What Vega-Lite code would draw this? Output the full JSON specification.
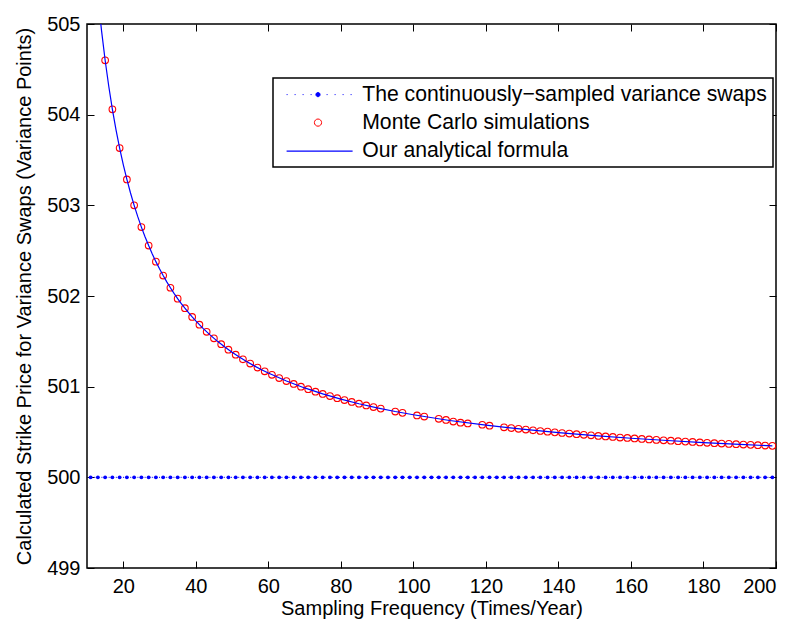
{
  "$schema": "https://vega.github.io/schema/vega-lite/v6.json",
  "width": 689,
  "height": 544,
  "autosize": "none",
  "padding": {"left": 87, "top": 24, "right": 20, "bottom": 57},
  "background": "white",
  "config": {
    "font": "Liberation Sans",
    "view": {"stroke": "black", "strokeWidth": 1.5},
    "axis": {
      "domain": false,
      "grid": false,
      "tickColor": "black",
      "tickWidth": 1,
      "tickSize": -7,
      "labelColor": "black",
      "labelFontSize": 20,
      "labelFont": "Liberation Sans",
      "titleFont": "Liberation Sans",
      "titleFontSize": 20,
      "titleFontWeight": "normal",
      "titleColor": "black"
    }
  },
  "datasets": {
    "formula": [
      {"n":12,"v":505.75},{"n":13,"v":505.308},{"n":14,"v":504.929},{"n":15,"v":504.6},{"n":16,"v":504.313},{"n":17,"v":504.059},{"n":18,"v":503.833},{"n":19,"v":503.632},{"n":20,"v":503.45},{"n":21,"v":503.286},{"n":22,"v":503.136},{"n":23,"v":503.0},{"n":24,"v":502.875},{"n":25,"v":502.76},{"n":26,"v":502.654},{"n":27,"v":502.556},{"n":28,"v":502.464},{"n":29,"v":502.379},{"n":30,"v":502.3},{"n":31,"v":502.226},{"n":32,"v":502.156},{"n":33,"v":502.091},{"n":34,"v":502.029},{"n":35,"v":501.971},{"n":36,"v":501.917},{"n":37,"v":501.865},{"n":38,"v":501.816},{"n":39,"v":501.769},{"n":40,"v":501.725},{"n":42,"v":501.643},{"n":44,"v":501.568},{"n":46,"v":501.5},{"n":48,"v":501.438},{"n":50,"v":501.38},{"n":52,"v":501.327},{"n":54,"v":501.278},{"n":56,"v":501.232},{"n":58,"v":501.19},{"n":60,"v":501.15},{"n":65,"v":501.062},{"n":70,"v":500.986},{"n":75,"v":500.92},{"n":80,"v":500.863},{"n":85,"v":500.812},{"n":90,"v":500.767},{"n":95,"v":500.726},{"n":100,"v":500.69},{"n":110,"v":500.627},{"n":120,"v":500.575},{"n":130,"v":500.531},{"n":140,"v":500.493},{"n":150,"v":500.46},{"n":160,"v":500.431},{"n":170,"v":500.406},{"n":180,"v":500.383},{"n":190,"v":500.363},{"n":199,"v":500.347}
    ],
    "mc": [
      {"n":15,"v":504.6},{"n":17,"v":504.059},{"n":19,"v":503.632},{"n":21,"v":503.286},{"n":23,"v":503.0},{"n":25,"v":502.76},{"n":27,"v":502.556},{"n":29,"v":502.379},{"n":31,"v":502.226},{"n":33,"v":502.091},{"n":35,"v":501.971},{"n":37,"v":501.865},{"n":39,"v":501.769},{"n":41,"v":501.683},{"n":43,"v":501.605},{"n":45,"v":501.533},{"n":47,"v":501.468},{"n":49,"v":501.408},{"n":51,"v":501.353},{"n":53,"v":501.302},{"n":55,"v":501.255},{"n":57,"v":501.211},{"n":59,"v":501.169},{"n":61,"v":501.131},{"n":63,"v":501.095},{"n":65,"v":501.062},{"n":67,"v":501.03},{"n":69,"v":501.0},{"n":71,"v":500.972},{"n":73,"v":500.945},{"n":75,"v":500.92},{"n":77,"v":500.896},{"n":79,"v":500.873},{"n":81,"v":500.852},{"n":83,"v":500.831},{"n":85,"v":500.812},{"n":87,"v":500.793},{"n":89,"v":500.775},{"n":91,"v":500.758},{"n":95,"v":500.726},{"n":97,"v":500.711},{"n":101,"v":500.683},{"n":103,"v":500.67},{"n":107,"v":500.645},{"n":109,"v":500.633},{"n":111,"v":500.615},{"n":113,"v":500.603},{"n":115,"v":500.594},{"n":119,"v":500.58},{"n":121,"v":500.57},{"n":125,"v":500.552},{"n":127,"v":500.543},{"n":129,"v":500.535},{"n":131,"v":500.527},{"n":133,"v":500.519},{"n":135,"v":500.511},{"n":137,"v":500.504},{"n":139,"v":500.496},{"n":141,"v":500.489},{"n":143,"v":500.483},{"n":145,"v":500.476},{"n":147,"v":500.469},{"n":149,"v":500.463},{"n":151,"v":500.457},{"n":153,"v":500.451},{"n":155,"v":500.445},{"n":157,"v":500.439},{"n":159,"v":500.434},{"n":161,"v":500.429},{"n":163,"v":500.423},{"n":165,"v":500.418},{"n":167,"v":500.413},{"n":169,"v":500.408},{"n":171,"v":500.404},{"n":173,"v":500.399},{"n":175,"v":500.394},{"n":177,"v":500.39},{"n":179,"v":500.385},{"n":181,"v":500.381},{"n":183,"v":500.377},{"n":185,"v":500.373},{"n":187,"v":500.369},{"n":189,"v":500.365},{"n":191,"v":500.361},{"n":193,"v":500.358},{"n":195,"v":500.354},{"n":197,"v":500.35},{"n":199,"v":500.347}
    ],
    "cont": [
      {"n":11,"v":500},{"n":13,"v":500},{"n":15,"v":500},{"n":17,"v":500},{"n":19,"v":500},{"n":21,"v":500},{"n":23,"v":500},{"n":25,"v":500},{"n":27,"v":500},{"n":29,"v":500},{"n":31,"v":500},{"n":33,"v":500},{"n":35,"v":500},{"n":37,"v":500},{"n":39,"v":500},{"n":41,"v":500},{"n":43,"v":500},{"n":45,"v":500},{"n":47,"v":500},{"n":49,"v":500},{"n":51,"v":500},{"n":53,"v":500},{"n":55,"v":500},{"n":57,"v":500},{"n":59,"v":500},{"n":61,"v":500},{"n":63,"v":500},{"n":65,"v":500},{"n":67,"v":500},{"n":69,"v":500},{"n":71,"v":500},{"n":73,"v":500},{"n":75,"v":500},{"n":77,"v":500},{"n":79,"v":500},{"n":81,"v":500},{"n":83,"v":500},{"n":85,"v":500},{"n":87,"v":500},{"n":89,"v":500},{"n":91,"v":500},{"n":93,"v":500},{"n":95,"v":500},{"n":97,"v":500},{"n":99,"v":500},{"n":101,"v":500},{"n":103,"v":500},{"n":105,"v":500},{"n":107,"v":500},{"n":109,"v":500},{"n":111,"v":500},{"n":113,"v":500},{"n":115,"v":500},{"n":117,"v":500},{"n":119,"v":500},{"n":121,"v":500},{"n":123,"v":500},{"n":125,"v":500},{"n":127,"v":500},{"n":129,"v":500},{"n":131,"v":500},{"n":133,"v":500},{"n":135,"v":500},{"n":137,"v":500},{"n":139,"v":500},{"n":141,"v":500},{"n":143,"v":500},{"n":145,"v":500},{"n":147,"v":500},{"n":149,"v":500},{"n":151,"v":500},{"n":153,"v":500},{"n":155,"v":500},{"n":157,"v":500},{"n":159,"v":500},{"n":161,"v":500},{"n":163,"v":500},{"n":165,"v":500},{"n":167,"v":500},{"n":169,"v":500},{"n":171,"v":500},{"n":173,"v":500},{"n":175,"v":500},{"n":177,"v":500},{"n":179,"v":500},{"n":181,"v":500},{"n":183,"v":500},{"n":185,"v":500},{"n":187,"v":500},{"n":189,"v":500},{"n":191,"v":500},{"n":193,"v":500},{"n":195,"v":500},{"n":197,"v":500},{"n":199,"v":500}
    ]
  },
  "resolve": {"axis": {"x": "independent", "y": "independent"}},
  "layer": [
    {
      "data": {"name": "cont"},
      "mark": {"type": "line", "color": "#0000ff", "strokeWidth": 1, "strokeDash": [1, 2.6]},
      "encoding": {
        "x": {"field": "n", "type": "quantitative", "scale": {"domain": [10, 200], "nice": false, "zero": false}, "axis": null},
        "y": {"field": "v", "type": "quantitative", "scale": {"domain": [499, 505], "nice": false, "zero": false}, "axis": null}
      }
    },
    {
      "data": {"name": "cont"},
      "mark": {"type": "point", "filled": true, "color": "#0000ff", "size": 15, "opacity": 1, "clip": false},
      "encoding": {
        "x": {"field": "n", "type": "quantitative", "axis": null},
        "y": {"field": "v", "type": "quantitative", "axis": null}
      }
    },
    {
      "data": {"name": "mc"},
      "mark": {"type": "point", "filled": false, "color": "#ff0000", "size": 44, "strokeWidth": 1.1, "opacity": 1},
      "encoding": {
        "x": {"field": "n", "type": "quantitative", "axis": {"orient": "top", "labels": false, "title": null, "values": [20,40,60,80,100,120,140,160,180,200]}},
        "y": {"field": "v", "type": "quantitative", "axis": {"orient": "right", "labels": false, "title": null, "values": [499,500,501,502,503,504,505]}}
      }
    },
    {
      "data": {"name": "formula"},
      "mark": {"type": "line", "strokeWidth": 1.2, "clip": true},
      "encoding": {
        "x": {"field": "n", "type": "quantitative", "axis": {"orient": "bottom", "title": "Sampling Frequency (Times/Year)", "values": [20,40,60,80,100,120,140,160,180,200], "labelPadding": 15, "titlePadding": 2}},
        "y": {"field": "v", "type": "quantitative", "axis": {"orient": "left", "title": "Calculated Strike Price for Variance Swaps (Variance Points)", "values": [499,500,501,502,503,504,505], "labelPadding": 14, "titlePadding": 12}},
        "color": {
          "datum": "Our analytical formula",
          "type": "nominal",
          "scale": {
            "domain": ["The continuously−sampled variance swaps", "Monte Carlo simulations", "Our analytical formula"],
            "range": ["#0000ff", "#ff0000", "#0000ff"]
          },
          "legend": {
            "title": null,
            "orient": "none",
            "legendX": 186,
            "legendY": 54,
            "padding": 6,
            "strokeColor": "black",
            "fillColor": "white",
            "labelFontSize": 21.2,
            "labelFont": "Liberation Sans",
            "labelColor": "black",
            "labelOffset": 62,
            "labelLimit": 0,
            "rowPadding": 6,
            "symbolSize": 100,
            "symbolStrokeWidth": 1,
            "encode": {
              "legend": {"update": {"strokeWidth": {"value": 1.5}}},
              "symbols": {
                "update": {
                  "shape": {"signal": "datum.value === 'Monte Carlo simulations' ? 'M6.4,0A0.72,0.72,0,1,1,4.96,0A0.72,0.72,0,1,1,6.4,0Z' : datum.value === 'Our analytical formula' ? 'M-0.6,0.1H12.6' : 'M-0.6,0h0.2M1,0h0.2M2.6,0h0.2M4.2,0h0.2M7.4,0h0.2M9,0h0.2M10.6,0h0.2M12.2,0h0.2M6.1,0A0.42,0.42,0,1,1,5.26,0A0.42,0.42,0,1,1,6.1,0Z'"},
                  "stroke": {"signal": "datum.value === 'Monte Carlo simulations' ? '#ff0000' : '#0000ff'"},
                  "fill": {"signal": "datum.value === 'The continuously−sampled variance swaps' ? '#0000ff' : 'transparent'"},
                  "strokeWidth": {"signal": "datum.value === 'Our analytical formula' ? 1.3 : 1"},
                  "opacity": {"value": 1}
                }
              }
            }
          }
        }
      }
    }
  ]
}
